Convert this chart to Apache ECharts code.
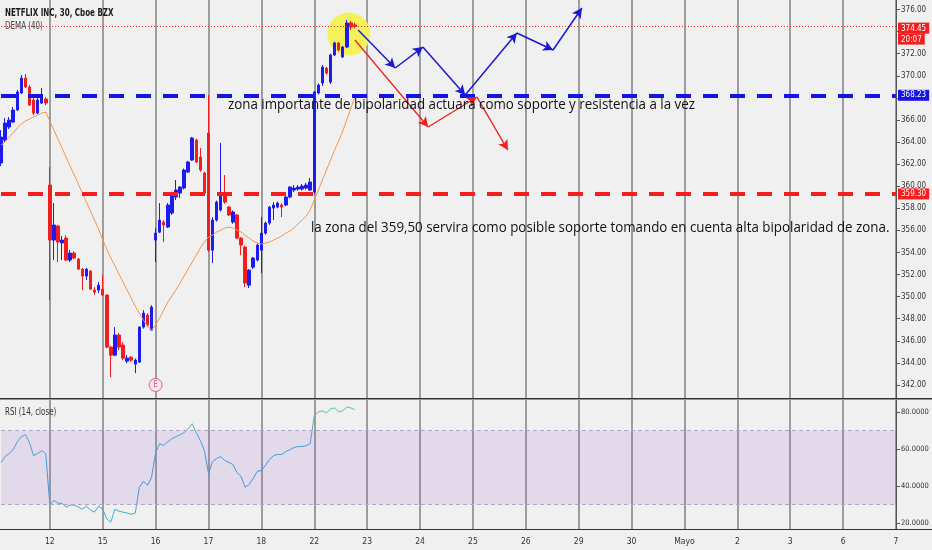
<!DOCTYPE html>
<html><head><meta charset="utf-8">
<script src="https://cdn.jsdelivr.net/npm/echarts@6/dist/echarts.min.js"></script>
<style>html,body{margin:0;padding:0;background:#f0f0f0;}#c{width:932px;height:550px;}</style>
</head><body><div id="c"></div>
<script>
// ---- data ----
const days = ['11','12','15','16','17','18','22','23','24','25','26','29','30','Mayo','2','3','6','7'];
const barsPerDay = 13;
const firstDayBars = 12;
const lastDayBars = 1;

const open  = [362.10,364.18,365.36,365.81,366.90,368.44,369.79,368.98,367.80,366.62,367.53,367.89,
  360.10,355.12,356.39,354.86,355.30,353.31,353.94,353.40,352.49,351.86,352.31,350.59,350.59,
  350.68,350.14,345.43,344.70,346.52,345.61,344.16,344.52,343.89,344.07,347.24,348.33,346.97,
  355.12,355.84,356.75,356.30,357.57,359.02,359.38,359.83,361.28,362.37,364.18,362.64,361.19,
  364.81,354.21,356.93,357.84,359.38,358.11,356.75,357.39,355.30,354.49,351.04,352.67,353.31,
  354.21,355.75,356.66,358.02,358.11,358.29,358.29,359.02,359.65,359.74,359.74,359.83,359.65,
  359.47,368.44,369.34,370.70,369.43,371.88,372.97,371.70,372.60,374.78,374.60];
const close = [364.45,365.72,365.99,366.90,368.53,369.79,368.98,367.35,366.62,367.80,368.25,367.53,
  355.12,356.48,354.94,355.12,353.31,353.94,353.49,352.49,351.86,352.49,350.68,350.41,351.04,
  350.14,345.43,344.70,346.52,345.43,344.43,344.43,344.25,344.25,347.24,348.51,347.42,349.05,
  355.75,356.93,356.48,358.29,359.38,359.65,359.92,361.46,362.19,364.36,362.19,361.46,359.38,
  354.21,356.93,358.56,359.38,358.56,357.39,357.66,355.30,354.67,351.23,352.40,353.49,354.67,
  355.75,356.66,358.11,358.29,358.47,358.11,359.02,359.92,359.83,359.92,360.01,360.10,360.38,
  368.53,369.16,370.79,370.25,371.88,372.97,372.33,372.60,374.78,374.41,374.45];
const low   = [361.82,364.00,365.18,365.72,366.81,368.35,368.89,367.26,366.44,366.53,367.44,367.35,
  349.68,353.31,353.13,353.31,353.22,353.13,353.40,352.40,350.59,351.50,350.59,350.14,350.32,
  350.05,345.34,342.71,344.61,345.16,344.25,343.98,344.07,343.07,344.00,347.10,347.24,346.90,
  353.13,355.75,354.94,356.21,357.40,358.74,358.92,359.70,361.20,362.30,362.10,361.30,359.30,
  354.03,353.04,356.80,357.70,358.40,357.30,356.60,355.20,353.76,350.86,350.77,352.50,353.20,
  352.13,355.60,356.50,356.93,358.00,357.20,358.20,358.90,359.47,359.60,359.60,359.70,359.56,
  359.29,368.30,369.07,370.10,369.25,371.80,372.20,371.61,372.50,374.14,374.30];
const high  = [365.08,366.17,366.26,367.17,368.71,370.07,370.16,369.16,367.98,367.98,368.89,368.07,
  361.73,358.47,356.50,355.48,355.57,354.21,354.12,353.50,352.60,352.58,352.40,350.86,351.32,
  351.95,350.20,345.50,347.24,346.70,345.88,344.70,344.60,344.40,347.30,348.78,348.50,349.23,
  356.21,358.47,356.93,358.47,359.50,360.56,360.00,361.60,362.30,364.45,364.30,363.45,361.30,
  368.26,357.20,358.70,363.91,361.01,358.20,357.80,357.50,355.40,354.60,352.50,353.60,354.80,
  357.20,356.80,358.20,358.56,358.60,358.47,359.10,360.00,360.10,360.10,360.20,360.30,360.74,
  368.60,369.30,370.97,370.80,372.00,373.10,373.00,372.70,375.05,374.96,374.80];

const dema = [363.73,364.00,364.45,364.81,365.27,365.63,365.90,366.08,366.26,366.44,366.62,366.71,
  365.90,365.08,364.27,363.45,362.64,361.82,361.01,360.19,359.38,358.56,357.75,356.93,356.12,
  355.12,354.31,353.49,352.77,352.04,351.32,350.59,349.87,349.14,348.51,347.87,347.33,346.97,
  347.42,348.06,348.78,349.50,350.05,350.59,351.22,351.86,352.49,353.13,353.76,354.40,354.94,
  355.39,355.57,355.85,356.03,356.21,356.30,356.21,356.03,355.85,355.57,355.30,355.03,354.85,
  354.76,354.85,354.94,355.12,355.30,355.48,355.75,355.94,356.21,356.57,356.93,357.29,357.84,
  358.74,359.65,360.56,361.46,362.37,363.27,364.09,364.99,365.99,367.08,368.07];

const rsi = [52.7,55.9,57.5,59.6,63.9,66.6,67.7,63.4,56.4,57.5,59.1,57.5,
  29.7,32.3,30.7,30.7,28.6,29.7,29.7,28.6,27.5,29.1,27.0,25.9,29.1,
  27.5,22.2,20.5,27.5,26.4,25.9,25.4,24.8,25.4,39.3,42.5,40.4,44.6,
  58.0,62.9,61.8,63.9,65.5,66.6,67.7,68.8,70.9,73.6,68.8,64.5,59.1,
  46.8,53.2,54.8,55.9,53.8,52.7,51.6,47.3,45.2,39.3,40.9,44.1,47.9,
  48.4,51.1,54.3,56.4,57.0,57.0,58.6,59.6,60.7,61.3,61.3,61.8,62.9,
  77.9,80.0,80.5,79.5,81.6,82.1,80.0,80.5,82.7,82.1,81.1];

const lastPrice = 374.45;
const countdown = '20:07';
const blueLevel = 368.23;
const redLevel = 359.30;
const rsiUpper = 70;
const rsiLower = 30;

const blueArrowIdx   = [87.8, 96.9, 103.7, 114.1, 126.8, 135.7, 142.8];
const blueArrowPrice = [374.14, 370.70, 372.60, 368.25, 373.87, 372.33, 376.14];
const redArrowIdx    = [87.0, 105.0, 117.0, 124.6];
const redArrowPrice  = [373.24, 365.36, 368.07, 363.27];
const highlightIdx = 85.5, highlightPrice = 373.78;
const earningsIdx = 38, earningsPrice = 342.0;

const title = 'NETFLIX INC, 30, Cboe BZX';
const studyMain = 'DEMA (40)';
const studyRsi = 'RSI (14, close)';
const note1 = 'zona importante de bipolaridad actuara como soporte y resistencia a la vez';
const note2 = 'la zona del 359,50 servira como posible soporte tomando en cuenta alta bipolaridad de zona.';

// ---- build ----
const categories = [];
days.forEach((d, k) => {
  const n = k === 0 ? firstDayBars : (k === days.length - 1 ? lastDayBars : barsPerDay);
  const start = k === 0 ? barsPerDay - firstDayBars + 1 : 1;
  for (let b = 0; b < n; b++) categories.push(d + '|' + (start + b));
});
const nCat = categories.length;
const isDayStart = (v) => String(v).split('|')[1] === '1';
const candles = open.map((o, i) => [o, close[i], low[i], high[i]]);
const segs = (xs, ys) => xs.slice(1).map((x, k) => [{coord: [xs[k], ys[k]]}, {coord: [x, ys[k + 1]]}]);

const FN = '"Liberation Sans Narrow","DejaVu Sans Condensed","Liberation Sans",sans-serif';
const NOTE_FN = '"Open Sans",sans-serif';
const UP = '#1c1cf0', DN = '#f21d1d';
const GRID_R = 36;

const chart = echarts.init(document.getElementById('c'), null, {renderer: 'canvas'});
const vSplit = {show: true, interval: (i, v) => isDayStart(v), lineStyle: {color: '#828282', width: 1.5}};

chart.setOption({
  animation: false,
  backgroundColor: '#f0f0f0',
  textStyle: {fontFamily: FN},
  grid: [
    {left: 1, right: GRID_R, top: 0, height: 398, outerBoundsMode: 'none', containLabel: false},
    {left: 1, right: GRID_R, top: 400, height: 129, outerBoundsMode: 'none', containLabel: false}
  ],
  xAxis: [
    {type: 'category', gridIndex: 0, data: categories, boundaryGap: false,
     axisLine: {show: false, onZero: false}, axisTick: {show: false}, axisLabel: {show: false}, splitLine: vSplit},
    {type: 'category', gridIndex: 1, data: categories, boundaryGap: false,
     axisLine: {show: true, onZero: false, lineStyle: {color: '#333', width: 1}}, axisTick: {show: false},
     axisLabel: {interval: (i, v) => isDayStart(v), formatter: (v) => v.split('|')[0],
                 fontSize: 8.5, color: '#333', margin: 8},
     splitLine: vSplit},
    {type: 'value', gridIndex: 0, min: 0, max: nCat - 1, show: false,
     axisLine: {show: false, onZero: false}, splitLine: {show: false}}
  ],
  yAxis: [
    {type: 'value', gridIndex: 0, position: 'right', min: 340.82, max: 376.86, splitNumber: 18,
     axisLine: {show: true, onZero: false, lineStyle: {color: '#555'}},
     axisTick: {show: true, length: 4, lineStyle: {color: '#555'}},
     axisLabel: {formatter: (v) => v.toFixed(2), fontSize: 8, color: '#333', margin: 5,
                 showMinLabel: false, showMaxLabel: false},
     splitLine: {show: false}},
    {type: 'value', gridIndex: 1, position: 'right', min: 16.8, max: 86.4, splitNumber: 3,
     axisLine: {show: true, onZero: false, lineStyle: {color: '#555'}},
     axisTick: {show: true, length: 4, lineStyle: {color: '#555'}},
     axisLabel: {formatter: (v) => v.toFixed(4), fontSize: 7.5, color: '#333', margin: 5,
                 showMinLabel: false, showMaxLabel: false},
     splitLine: {show: false}}
  ],
  series: [
    {
      type: 'line', xAxisIndex: 2, yAxisIndex: 0, data: [], z: 1, silent: true,
      markPoint: {z: 1, silent: true, symbol: 'circle', symbolSize: 43,
        itemStyle: {color: '#f4f15a'}, label: {show: false},
        data: [{coord: [highlightIdx, highlightPrice]}]}
    },
    {
      type: 'candlestick', xAxisIndex: 0, yAxisIndex: 0, data: candles, barWidth: 3, z: 2,
      itemStyle: {color: UP, color0: DN, borderColor: UP, borderColor0: DN, borderWidth: 1},
      markLine: {
        silent: true, symbol: 'none', animation: false,
        data: [
          {yAxis: lastPrice, lineStyle: {color: '#f03030', type: [1, 2], width: 1},
           label: {show: true, position: 'end', distance: 2, offset: [0, 7],
             formatter: '{a|' + lastPrice.toFixed(2) + '}\n{b|' + countdown + '}',
             rich: {a: {backgroundColor: '#f01e1e', color: '#fff', fontSize: 8, padding: [2, 3, 1, 3], fontFamily: FN},
                    b: {backgroundColor: '#f01e1e', color: '#fff', fontSize: 8, padding: [2, 3, 1, 3], fontFamily: FN}}}},
          {yAxis: blueLevel, lineStyle: {color: '#1414e6', type: [15, 12], width: 4},
           label: {show: true, position: 'end', distance: 2, formatter: blueLevel.toFixed(2),
             backgroundColor: '#1414e6', color: '#fff', fontSize: 8, padding: [2, 3, 1, 3]}},
          {yAxis: redLevel, lineStyle: {color: '#f51e1e', type: [15, 12], width: 4},
           label: {show: true, position: 'end', distance: 2, formatter: redLevel.toFixed(2),
             backgroundColor: '#f51e1e', color: '#fff', fontSize: 8, padding: [2, 3, 1, 3]}}
        ]
      },
      markPoint: {
        silent: true, symbol: 'circle', symbolSize: 13,
        itemStyle: {color: '#f3e9ec', borderColor: '#e0607e', borderWidth: 1},
        label: {show: true, formatter: 'E', color: '#e0607e', fontSize: 8},
        data: [{coord: [categories[earningsIdx], earningsPrice]}]
      }
    },
    {
      type: 'line', xAxisIndex: 0, yAxisIndex: 0, data: dema, showSymbol: false, z: 3, silent: true,
      lineStyle: {color: '#f5964a', width: 1}
    },
    {
      type: 'line', xAxisIndex: 2, yAxisIndex: 0, data: [], z: 4, silent: true,
      markLine: {silent: true, symbol: ['none', 'arrow'], symbolSize: [8, 10], label: {show: false},
        lineStyle: {color: '#1a1ad0', width: 1.5, type: 'solid'}, data: segs(blueArrowIdx, blueArrowPrice)}
    },
    {
      type: 'line', xAxisIndex: 2, yAxisIndex: 0, data: [], z: 4, silent: true,
      markLine: {silent: true, symbol: ['none', 'arrow'], symbolSize: [8, 10], label: {show: false},
        lineStyle: {color: '#f02020', width: 1.3, type: 'solid'}, data: segs(redArrowIdx, redArrowPrice)}
    },
    {
      type: 'line', xAxisIndex: 1, yAxisIndex: 1, data: rsi, showSymbol: false, z: 3, silent: true,
      lineStyle: {width: 1, color: new echarts.graphic.LinearGradient(0, 0, 0, 1, [
        {offset: 0, color: '#3ccfb2'}, {offset: 0.35, color: '#4a9ed8'},
        {offset: 0.65, color: '#4a8fd6'}, {offset: 1, color: '#30c0d0'}])},
      markArea: {silent: true, itemStyle: {color: 'rgba(149,90,210,0.15)'},
        data: [[{yAxis: rsiLower}, {yAxis: rsiUpper}]]},
      markLine: {silent: true, symbol: 'none', label: {show: false},
        lineStyle: {color: '#b5a6c4', type: [4, 3], width: 1},
        data: [{yAxis: rsiUpper}, {yAxis: rsiLower}]}
    }
  ],
  graphic: [
    {type: 'rect', z: 10, silent: true, shape: {x: 0, y: 398, width: 932, height: 1.5}, style: {fill: '#333'}},
    {type: 'rect', z: 10, silent: true, shape: {x: 0, y: 529, width: 932, height: 1}, style: {fill: '#333'}},
    {type: 'text', z: 10, x: 5, y: 13, scaleX: 0.72, silent: true,
     style: {text: title, fill: '#1a1a1a', fontSize: 11, fontWeight: 'bold', fontFamily: FN, verticalAlign: 'middle'}},
    {type: 'text', z: 10, x: 5, y: 26, scaleX: 0.72, silent: true,
     style: {text: studyMain, fill: '#444', fontSize: 11, fontFamily: FN, verticalAlign: 'middle'}},
    {type: 'text', z: 10, x: 5, y: 412, scaleX: 0.72, silent: true,
     style: {text: studyRsi, fill: '#333', fontSize: 11, fontFamily: FN, verticalAlign: 'middle'}},
    {type: 'text', z: 10, x: 228, y: 105, scaleX: 0.89, silent: true,
     style: {text: note1, fill: '#111', fontSize: 15, fontFamily: NOTE_FN, verticalAlign: 'middle'}},
    {type: 'text', z: 10, x: 311, y: 228, scaleX: 0.89, silent: true,
     style: {text: note2, fill: '#111', fontSize: 15, fontFamily: NOTE_FN, verticalAlign: 'middle'}}
  ]
});
</script></body></html>
